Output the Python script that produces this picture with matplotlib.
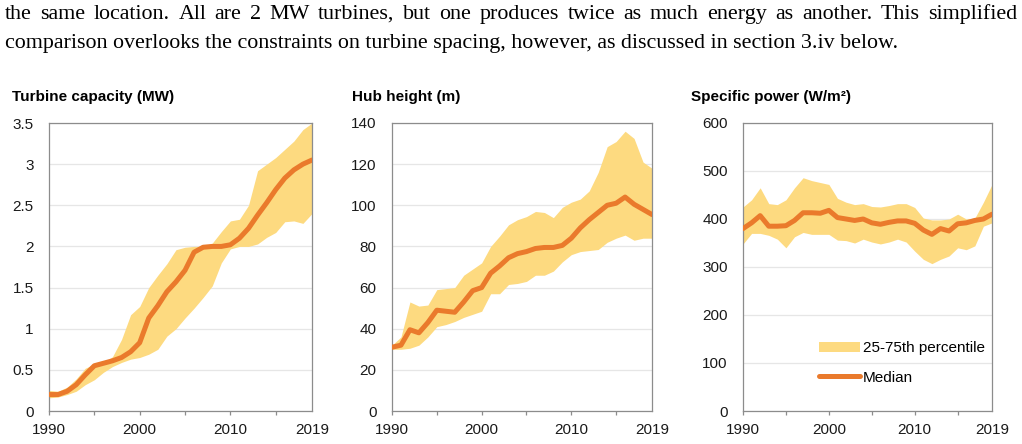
import matplotlib
matplotlib.use("Agg")
import matplotlib.pyplot as plt
import numpy as np

years = list(range(1990, 2020))

cap_median = [0.2, 0.2, 0.24, 0.32, 0.44, 0.55, 0.58, 0.61, 0.65, 0.72, 0.83, 1.13, 1.28, 1.45, 1.57,
              1.71, 1.93, 1.99, 2.0, 2.0, 2.02, 2.1, 2.22, 2.38, 2.53, 2.69, 2.83, 2.93, 3.0, 3.05]
cap_p75 = [0.25, 0.24, 0.29, 0.39, 0.52, 0.57, 0.59, 0.66, 0.87, 1.17, 1.27, 1.5, 1.65, 1.79, 1.96,
           1.99, 2.0, 2.0, 2.04, 2.18, 2.31, 2.33, 2.5, 2.92, 3.0, 3.08, 3.18, 3.28, 3.42, 3.5]
cap_p25 = [0.16, 0.17, 0.2, 0.24, 0.32, 0.38, 0.47, 0.54, 0.59, 0.63, 0.65, 0.69, 0.75, 0.91, 1.0,
           1.13, 1.25, 1.38, 1.52, 1.8, 1.97, 2.0, 2.0, 2.03, 2.11, 2.17, 2.3, 2.31, 2.28, 2.4]

hub_median = [31, 32, 39.5, 38, 43, 49, 48.5, 48, 53, 58.5, 60, 67, 70.5, 74.5, 76.5,
              77.5, 79, 79.5, 79.5, 80.5, 84, 89, 93, 96.5, 100, 101, 104, 100.5, 98, 95.5]
hub_p75 = [32, 36, 53, 51, 51.5, 59, 59.5, 60, 66, 69, 72, 80, 85, 90.5, 93,
           94.5, 97, 96.5, 94, 99, 101.5, 103, 107, 116, 128.5, 131, 136, 132.5, 121, 118]
hub_p25 = [30, 30, 30.5, 32, 36, 41, 42, 43.5, 45.5, 47, 48.5, 57, 57, 61.5, 62,
           63, 66, 66, 68, 72.5, 76, 77.5, 78, 78.5, 82, 84, 85.5, 83, 84, 84]

sp_median = [380, 392, 407, 385, 385, 386, 397, 413, 413, 412, 418, 403, 400, 397, 400,
             392, 389, 393, 396, 396, 391, 377, 368, 380, 375, 390, 392, 397, 400, 410]
sp_p75 = [425, 440, 465, 432, 430, 440, 465, 486, 480, 476, 472, 443, 435, 430, 432,
          426, 425, 428, 432, 432, 424, 402, 398, 398, 400, 410, 400, 402, 435, 472]
sp_p25 = [348, 370, 370, 366, 358, 340, 363, 372, 368, 368, 368, 356, 355, 350, 358,
          352, 348, 352, 358, 352, 333, 316, 307, 316, 323, 340, 336, 344, 385, 392]

titles = ["Turbine capacity (MW)", "Hub height (m)", "Specific power (W/m²)"]
ylims = [3.5, 140, 600]
yticks = [[0, 0.5, 1, 1.5, 2, 2.5, 3, 3.5], list(range(0, 141, 20)), list(range(0, 601, 100))]
yticklabels = [["0", "0.5", "1", "1.5", "2", "2.5", "3", "3.5"],
               [str(v) for v in range(0, 141, 20)], [str(v) for v in range(0, 601, 100)]]
xmajor = [1990, 1995, 2000, 2005, 2010, 2015]
xmajor_labels = ["1990", "", "2000", "", "2010", ""]
xend = [2019]
xend_labels = ["2019"]

line1 = "the same location. All are 2 MW turbines, but one produces twice as much energy as another. This simplified"
line2 = "comparison overlooks the constraints on turbine spacing, however, as discussed in section 3.iv below."

fill_color = "#FDDA80"
line_color = "#EA7A2C"
spine_color = "#8C8C8C"
grid_color = "#E6E6E6"
text_color = "#1a1a1a"

plt.rcParams['font.family'] = ['Liberation Sans', 'DejaVu Sans']
serif = ['Liberation Serif', 'DejaVu Serif']
body_size = 15.8

fig = plt.figure(figsize=(10.22, 4.44), dpi=100)
W, H = 1022, 444
renderer = fig.canvas.get_renderer()

# justified first line
words = line1.split(" ")
tmp = [fig.text(0, 0, w, family=serif, fontsize=body_size) for w in words]
widths = [t.get_window_extent(renderer).width for t in tmp]
for t in tmp:
    t.remove()
x0, x1 = 5, 1017
gap = (x1 - x0 - sum(widths)) / (len(words) - 1)
x = x0
for w, wd in zip(words, widths):
    fig.text(x / W, 1 - 19 / H, w, family=serif, fontsize=body_size, va='baseline', ha='left', color='black')
    x += wd + gap
fig.text(x0 / W, 1 - 48 / H, line2, family=serif, fontsize=body_size, va='baseline', ha='left', color='black')

panels = [(49, 312), (392, 652), (743, 992)]
title_x = [12, 352, 691]
top, bottom = 123, 411
data = [(cap_median, cap_p25, cap_p75), (hub_median, hub_p25, hub_p75), (sp_median, sp_p25, sp_p75)]

for i, ((l, r), (med, lo, hi)) in enumerate(zip(panels, data)):
    ax = fig.add_axes([l / W, 1 - bottom / H, (r - l) / W, (bottom - top) / H])
    ax.fill_between(years, lo, hi, color=fill_color, linewidth=0, label="25-75th percentile", zorder=2)
    ax.plot(years, med, color=line_color, linewidth=3.6, solid_capstyle='round', label="Median", zorder=3)
    ax.set_xlim(1990, 2019)
    ax.set_ylim(0, ylims[i])
    ax.set_yticks(yticks[i])
    ax.set_yticklabels(yticklabels[i])
    ax.set_yticks([0], minor=True)
    ax.set_xticks(xmajor)
    ax.set_xticklabels(xmajor_labels)
    ax.set_xticks(xend, minor=True)
    ax.set_xticklabels(xend_labels, minor=True)
    ax.tick_params(axis='x', which='major', direction='out', length=3, width=0.9, color=spine_color,
                   pad=5.5, labelsize=11, labelcolor=text_color)
    ax.tick_params(axis='x', which='minor', length=0, pad=8.5, labelsize=11, labelcolor=text_color)
    ax.tick_params(axis='y', which='major', length=0, labelsize=11, labelcolor=text_color, pad=11)
    ax.tick_params(axis='y', which='minor', length=3.5, width=0.9, color=spine_color)
    for s in ax.spines.values():
        s.set_color(spine_color)
        s.set_linewidth(0.9)
    ax.grid(axis='y', which='major', color=grid_color, linewidth=0.9, zorder=0)
    ax.set_axisbelow(True)
    fig.text(title_x[i] / W, 1 - 97 / H, titles[i], fontsize=11, fontweight='bold', ha='left', va='center',
             color='black')
    if i == 2:
        ax.legend(loc='lower right', bbox_to_anchor=(0.995, 0.07), frameon=False, fontsize=11,
                  handlelength=2.7, handletextpad=0.15, labelspacing=1.0, borderaxespad=0.0)

fig.savefig("out.png", dpi=100, facecolor='white')
